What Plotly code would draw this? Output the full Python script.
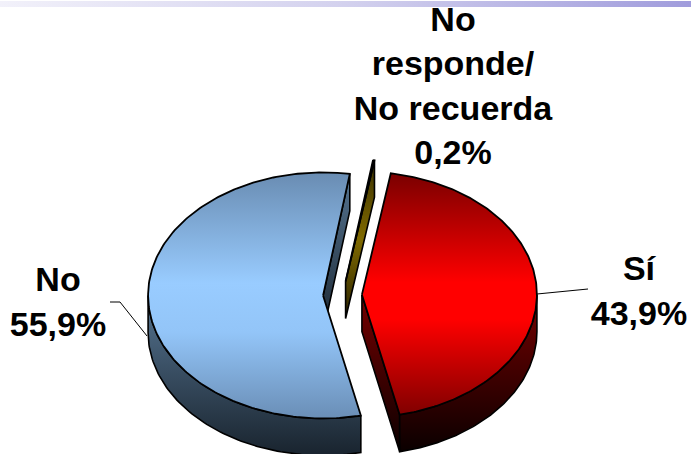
import numpy as np
import plotly.graph_objects as go

# ---- data ----
categories = ["Sí", "No", "No<br>responde/<br>No recuerda"]
values = [43.9, 55.9, 0.2]

# ---- styling / layout constants ----
W, H = 691, 454
CX, CY, RX, RY, DEPTH = 342.5, 295.0, 175.0, 123.0, 37.0
START_ANGLE = 9.5
EXPLODE = 0.111
FONT = "Liberation Sans"
FONT_SIZE = 34

top_scales = [
    [[0, "#780000"], [0.45, "#ff0000"], [0.6, "#ff0000"], [1, "#7c0000"]],
    [[0, "#698cb2"], [0.45, "#99ccff"], [0.65, "#93c5f8"], [1, "#6a8eb6"]],
    [[0, "#6a5500"], [0.5, "#d8b800"], [1, "#4a3b00"]],
]
side_scales = [
    [[0, "#760000"], [1, "#0a0000"]],
    [[0, "#567592"], [1, "#1a2530"]],
    [[0, "#3a3000"], [0.5, "#806a00"], [1, "#2a2200"]],
]
label_xy = [(639, 294), (58, 305), (453, 89)]

fig = go.Figure()


def poly(xs, ys, scale, y0, y1, line_w=1.6):
    fig.add_trace(go.Scatter(
        x=xs, y=ys, mode="lines", fill="toself",
        fillgradient=dict(type="vertical", colorscale=scale, start=y0, stop=y1),
        line=dict(color="#000000", width=line_w),
        hoverinfo="skip", showlegend=False,
    ))


# slice angles come straight from the values
total = sum(values)
angles = np.cumsum([0] + [v / total * 360 for v in values]) + START_ANGLE
slices = []
for i in range(len(values)):
    t0, t1 = angles[i], angles[i + 1]
    mid = np.radians((t0 + t1) / 2)
    ax = CX + EXPLODE * RX * np.sin(mid)
    ay = CY - EXPLODE * RY * np.cos(mid)
    slices.append((t0, t1, ax, ay))


def pt(ax, ay, t):
    r = np.radians(t)
    return ax + RX * np.sin(r), ay - RY * np.cos(r)


# thin slice goes behind the others
for i in [2, 1, 0]:
    t0, t1, ax, ay = slices[i]
    # radial cut face at the closing angle
    ex, ey = pt(ax, ay, t1)
    poly([ax, ex, ex, ax, ax], [ay, ey, ey + DEPTH, ay + DEPTH, ay],
         side_scales[i], min(ay, ey), max(ay, ey) + DEPTH)
    # outer rim, front half only
    lo, hi = max(t0, 90.0), min(t1, 270.0)
    if hi > lo:
        ts = np.linspace(lo, hi, 90)
        xs, ys = pt(ax, ay, ts)
        poly(np.r_[xs, xs[::-1], xs[0]], np.r_[ys, ys[::-1] + DEPTH, ys[0]],
             side_scales[i], ay, ay + 157)
    # top surface
    ts = np.linspace(t0, t1, 200)
    xs, ys = pt(ax, ay, ts)
    poly(np.r_[ax, xs, ax], np.r_[ay, ys, ay], top_scales[i], ay - RY, ay + RY, 1.8)

# header band
fig.add_trace(go.Scatter(
    x=[0, W, W, 0, 0], y=[1, 1, 7, 7, 1], mode="lines", fill="toself",
    fillgradient=dict(type="horizontal",
                      colorscale=[[0, "#f2f1fa"], [0.5, "#d3d1ee"], [1, "#a09cdc"]],
                      start=0, stop=W),
    line=dict(width=0), hoverinfo="skip", showlegend=False,
))

# leader lines
for lx, ly in [([537, 588], [294, 289]), ([110, 120, 147], [302, 302, 336])]:
    fig.add_trace(go.Scatter(x=lx, y=ly, mode="lines",
                             line=dict(color="#000000", width=1),
                             hoverinfo="skip", showlegend=False))

# labels
fig.add_trace(go.Scatter(
    x=[p[0] for p in label_xy], y=[p[1] for p in label_xy], mode="text",
    text=[f"<b>{c}<br>{v:.1f}%</b>".replace(".", ",") for c, v in zip(categories, values)],
    textposition="middle center",
    textfont=dict(family=FONT, size=FONT_SIZE, color="#000000"),
    hoverinfo="skip", showlegend=False, cliponaxis=False,
))

fig.update_layout(
    width=W, height=H,
    margin=dict(l=0, r=0, t=0, b=0),
    paper_bgcolor="#ffffff", plot_bgcolor="#ffffff",
    xaxis=dict(range=[0, W], visible=False, fixedrange=True),
    yaxis=dict(range=[H, 0], visible=False, fixedrange=True),
    showlegend=False,
)
fig.write_html("out.html", config={"displayModeBar": False},
               post_script="document.body.style.margin='0';document.body.style.overflow='hidden';")
